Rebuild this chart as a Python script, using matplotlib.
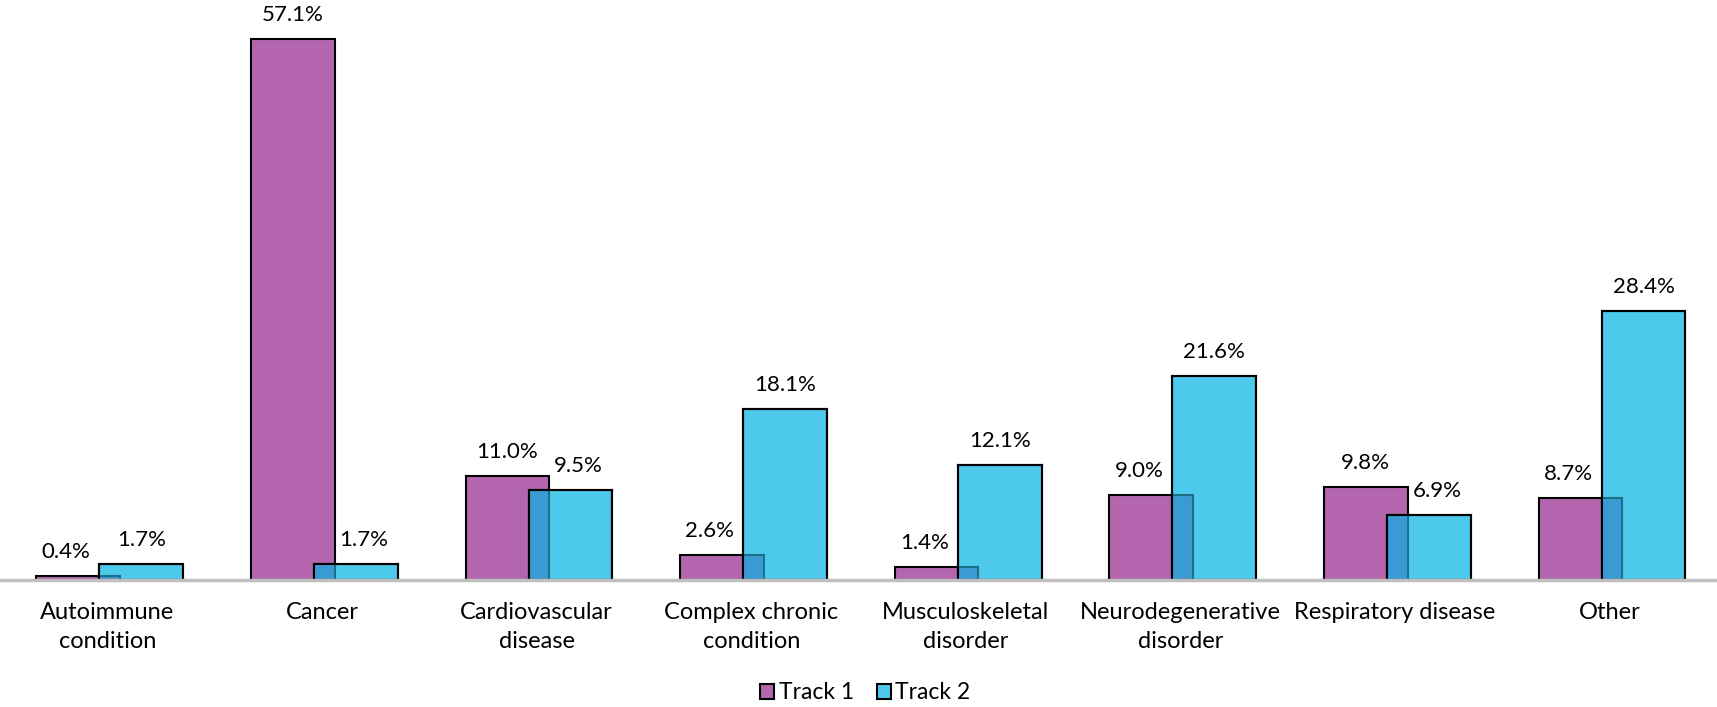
import matplotlib.pyplot as plt
import numpy as np

categories = ["Autoimmune\ncondition", "Cancer", "Cardiovascular\ndisease",
              "Complex chronic\ncondition", "Musculoskeletal\ndisorder",
              "Neurodegenerative\ndisorder", "Respiratory disease", "Other"]
track1 = [0.4, 57.1, 11.0, 2.6, 1.4, 9.0, 9.8, 8.7]
track2 = [1.7, 1.7, 9.5, 18.1, 12.1, 21.6, 6.9, 28.4]

PURPLE = "#B366AE"
CYAN = "#4DC9EB"
OVERLAP = "#3A9AD3"
OVERLAP_EDGE = "#1C7186"

plt.rcParams['font.family'] = ['Lato', 'DejaVu Sans']

fig = plt.figure(figsize=(17.17, 7.07), dpi=100)
ax = fig.add_axes([0, 0.1796, 1, 0.8034])

x = np.arange(len(categories))
width = 0.39
off = 0.147
shift = 0.011

t1 = np.array(track1)
t2 = np.array(track2)

b1 = ax.bar(x - off + shift, t1, width, color=PURPLE, edgecolor="black", linewidth=1.5, zorder=2, label="Track 1")
b2 = ax.bar(x + off + shift, t2, width, color=CYAN, edgecolor="black", linewidth=1.5, zorder=3, label="Track 2")

# shared strip where the two bars overlap
left = x + off + shift - width / 2
right = x - off + shift + width / 2
ax.bar(left, np.minimum(t1, t2), right - left, align="edge", color=OVERLAP,
       edgecolor=OVERLAP_EDGE, linewidth=1.5, zorder=4)
ax.bar(x + off + shift, t2, width, facecolor="none", edgecolor="black", linewidth=1.5, zorder=5)

# labels nudged away from the neighbouring taller bar
for i in range(len(categories)):
    dx1 = -12 if t2[i] > t1[i] else 0
    dx2 = 8 if t1[i] > t2[i] else 0
    ax.annotate(f"{t1[i]:.1f}%", (x[i] - off + shift, t1[i]), xytext=(dx1, 18),
                textcoords="offset pixels", ha="center", va="baseline", fontsize=16, zorder=6)
    ax.annotate(f"{t2[i]:.1f}%", (x[i] + off + shift, t2[i]), xytext=(dx2, 18),
                textcoords="offset pixels", ha="center", va="baseline", fontsize=16, zorder=6)

ax.set_xlim(-0.5, len(categories) - 0.5)
ax.set_ylim(0, 60)
ax.set_yticks([])
ax.set_xticks(x)
ax.set_xticklabels(categories, fontsize=17, linespacing=1.45)
ax.tick_params(axis="x", length=0, pad=16)
for s in ["top", "right", "left"]:
    ax.spines[s].set_visible(False)
ax.spines["bottom"].set_color("#BFBFBF")
ax.spines["bottom"].set_linewidth(2.5)
ax.spines["bottom"].set_zorder(7)

fig.legend(handles=[b1, b2], loc="center", bbox_to_anchor=(0.504, 0.02), ncol=2, frameon=False,
           fontsize=16.5, handlelength=0.6, handleheight=0.6, handletextpad=0.2, columnspacing=1.0)

fig.savefig("out.png", dpi=100)
